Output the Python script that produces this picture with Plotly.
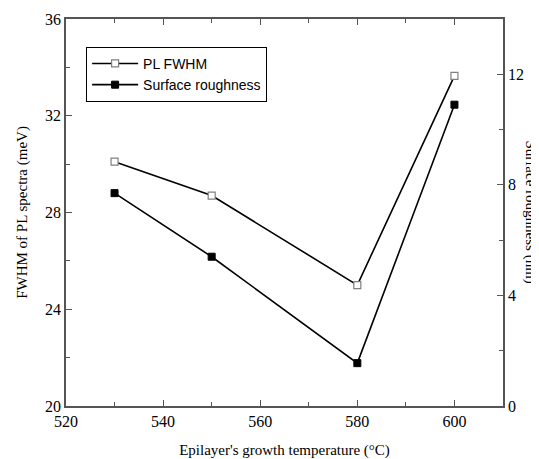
import plotly.graph_objects as go

temps = [530, 550, 580, 600]
pl_fwhm = [30.1, 28.7, 25.0, 33.65]
roughness = [7.7, 5.4, 1.55, 10.9]

x_ticks = [520, 540, 560, 580, 600]
y_ticks = [20, 24, 28, 32, 36]
y2_ticks = [0, 4, 8, 12]

serif = "Liberation Serif, Times New Roman, serif"
sans = "Liberation Sans, Arial, sans-serif"
axis_col = "#555555"

fig = go.Figure()
fig.add_trace(go.Scatter(
    x=temps, y=pl_fwhm, name="PL FWHM", mode="lines+markers",
    line=dict(color="black", width=1.6),
    marker=dict(symbol="square", size=7, color="white",
                line=dict(color="#808080", width=1.2)),
    yaxis="y"))
fig.add_trace(go.Scatter(
    x=temps, y=roughness, name="Surface roughness", mode="lines+markers",
    line=dict(color="black", width=1.6),
    marker=dict(symbol="square", size=7, color="black",
                line=dict(color="black", width=1)),
    yaxis="y2"))

tickfont = dict(family=serif, size=16, color="black")
titlefont = dict(family=serif, size=15, color="black")

fig.update_layout(
    width=531, height=451,
    margin=dict(l=58, r=36, t=11, b=53, autoexpand=False),
    paper_bgcolor="white", plot_bgcolor="white",
    font=dict(family=serif, size=15, color="black"),
    showlegend=True,
    legend=dict(x=0.046, y=0.928, xanchor="left", yanchor="top",
                bordercolor="black", borderwidth=1, bgcolor="white",
                font=dict(family=sans, size=14, color="black"),
                tracegroupgap=0, itemwidth=46),
    xaxis=dict(range=[520, 610], tickvals=x_ticks, ticks="inside",
               ticklen=6, tickwidth=1.2, tickcolor=axis_col,
               showline=True, linecolor=axis_col, linewidth=1.6,
               mirror="ticks", showgrid=False, zeroline=False,
               minor=dict(dtick=10, ticks="inside", ticklen=4, tickcolor=axis_col),
               title=dict(text="Epilayer's growth temperature (°C)",
                          font=titlefont, standoff=16),
               tickfont=tickfont),
    yaxis=dict(range=[20, 36], tickvals=y_ticks, ticks="inside",
               ticklen=6, tickwidth=1.2, tickcolor=axis_col,
               showline=True, linecolor=axis_col, linewidth=1.6,
               showgrid=False, zeroline=False,
               minor=dict(dtick=2, ticks="inside", ticklen=4, tickcolor=axis_col),
               title=dict(text="FWHM of PL spectra (meV)",
                          font=titlefont, standoff=14),
               tickfont=tickfont),
    yaxis2=dict(range=[0, 14], tickvals=y2_ticks, ticks="inside",
                ticklen=6, tickwidth=1.2, tickcolor=axis_col,
                overlaying="y", side="right",
                showline=True, linecolor=axis_col, linewidth=1.6,
                showgrid=False, zeroline=False,
                minor=dict(dtick=2, ticks="inside", ticklen=4, tickcolor=axis_col),
                tickfont=tickfont),
    annotations=[dict(text="Surface roughness (nm)", textangle=90,
                      xref="paper", yref="paper", x=1.064, y=0.5,
                      xanchor="center", yanchor="middle", showarrow=False,
                      font=titlefont)],
)

fig.write_html("out.html")
